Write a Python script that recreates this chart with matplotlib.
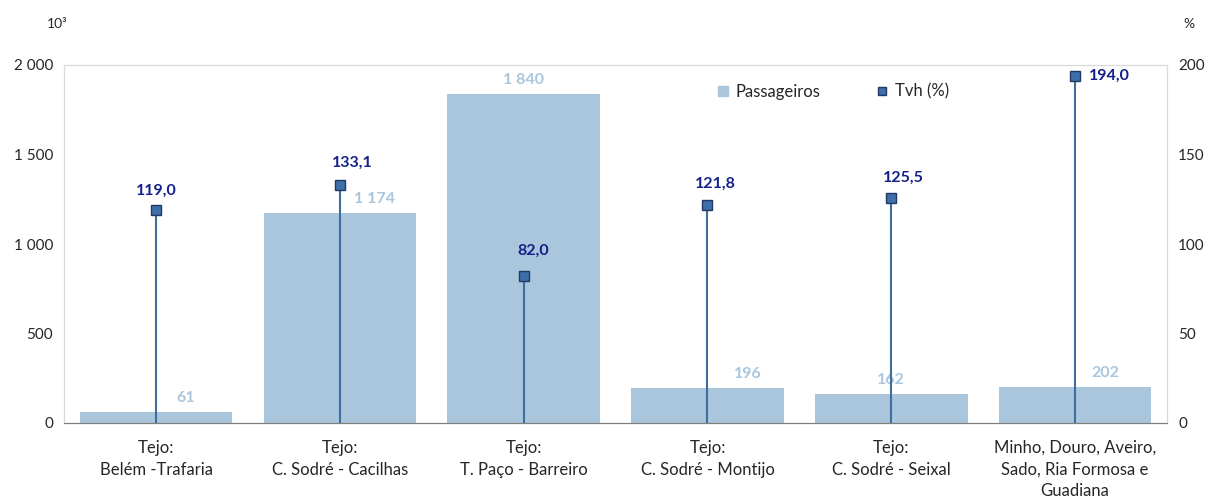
import numpy as np
import matplotlib.pyplot as plt

plt.rcParams['font.family'] = ['Lato', 'DejaVu Sans']

categorias = ['Tejo:\nBelém -Trafaria', 'Tejo:\nC. Sodré - Cacilhas', 'Tejo:\nT. Paço - Barreiro',
              'Tejo:\nC. Sodré - Montijo', 'Tejo:\nC. Sodré - Seixal',
              'Minho, Douro, Aveiro,\nSado, Ria Formosa e\nGuadiana']
passageiros = [61, 1174, 1840, 196, 162, 202]
tvh = [119.0, 133.1, 82.0, 121.8, 125.5, 194.0]

cor_barra = '#A9C6DD'
cor_linha = '#3F6E9E'
cor_rotulo = '#13208A'
cor_texto = '#262626'


def fmt_milhar(v):
    return '{:,.0f}'.format(v).replace(',', ' ')


def main():
    fig = plt.figure(figsize=(12.1, 5), dpi=100)
    ax = fig.add_axes([0.053, 0.154, 0.9115, 0.716])
    ax2 = ax.twinx()

    x = np.arange(len(categorias))
    ax.bar(x, passageiros, width=0.83, color=cor_barra, zorder=1, label='Passageiros')
    ax.set_xlim(-0.5, len(categorias) - 0.5)
    ax.set_ylim(0, 2000)
    ax.set_yticks([0, 500, 1000, 1500, 2000])
    ax.set_yticklabels([fmt_milhar(v) for v in [0, 500, 1000, 1500, 2000]])
    ax.set_xticks(x)
    ax.set_xticklabels(categorias, fontsize=12, linespacing=1.45)

    ax2.vlines(x, 0, tvh, color=cor_linha, lw=1.5, zorder=3)
    ax2.plot(x, tvh, 's', ms=7, mfc='#3F6FA8', mec='#1F3864', mew=1, ls='none',
             zorder=4, label='Tvh (%)')
    ax2.set_ylim(0, 200)
    ax2.set_yticks([0, 50, 100, 150, 200])

    # rótulos das barras (deslocados para não colidir com as hastes)
    desl_barra = [21, 25, 0, 29, 0, 22]
    for i, v in enumerate(passageiros):
        ax.annotate(fmt_milhar(v), (x[i], v), xytext=(desl_barra[i], 10),
                    textcoords='offset points', ha='center', va='center',
                    fontsize=11.5, fontweight='bold', color=cor_barra)

    desl_tvh = [(0, 14), (9, 16), (7, 18), (6, 15), (9, 15), (10, 0)]
    for i, v in enumerate(tvh):
        dx, dy = desl_tvh[i]
        ha = 'left' if dy == 0 else 'center'
        ax2.annotate('{:.1f}'.format(v).replace('.', ','), (x[i], v), xytext=(dx, dy),
                     textcoords='offset points', ha=ha, va='center',
                     fontsize=11.5, fontweight='bold', color=cor_rotulo)

    for a in (ax, ax2):
        a.tick_params(length=0, labelsize=11, colors=cor_texto, pad=8)
        for s in ['left', 'right', 'top']:
            a.spines[s].set_color('#D9D9D9')
        a.spines['bottom'].set_color('#7F7F7F')
    ax.tick_params(axis='x', pad=12, labelsize=12)

    ax.set_zorder(ax2.get_zorder() - 1)
    ax2.patch.set_visible(False)

    fig.text(0.047, 0.953, '10³', fontsize=10, color=cor_texto, ha='center', va='center')
    fig.text(0.983, 0.953, '%', fontsize=10, color=cor_texto, ha='center', va='center')

    h1 = plt.Line2D([], [], marker='s', ls='none', ms=7, mfc=cor_barra, mec=cor_barra)
    h2 = plt.Line2D([], [], marker='s', ls='none', ms=6, mfc='#3F6FA8', mec='#1F3864')
    ax2.legend([h1, h2], ['Passageiros', 'Tvh (%)'], loc='upper left',
               bbox_to_anchor=(0.578, 0.99), ncol=2, frameon=False, fontsize=12,
               handlelength=0.8, handletextpad=0.35, columnspacing=3.3,
               labelcolor=cor_texto)

    fig.savefig('out.png', dpi=100)


if __name__ == '__main__':
    main()
